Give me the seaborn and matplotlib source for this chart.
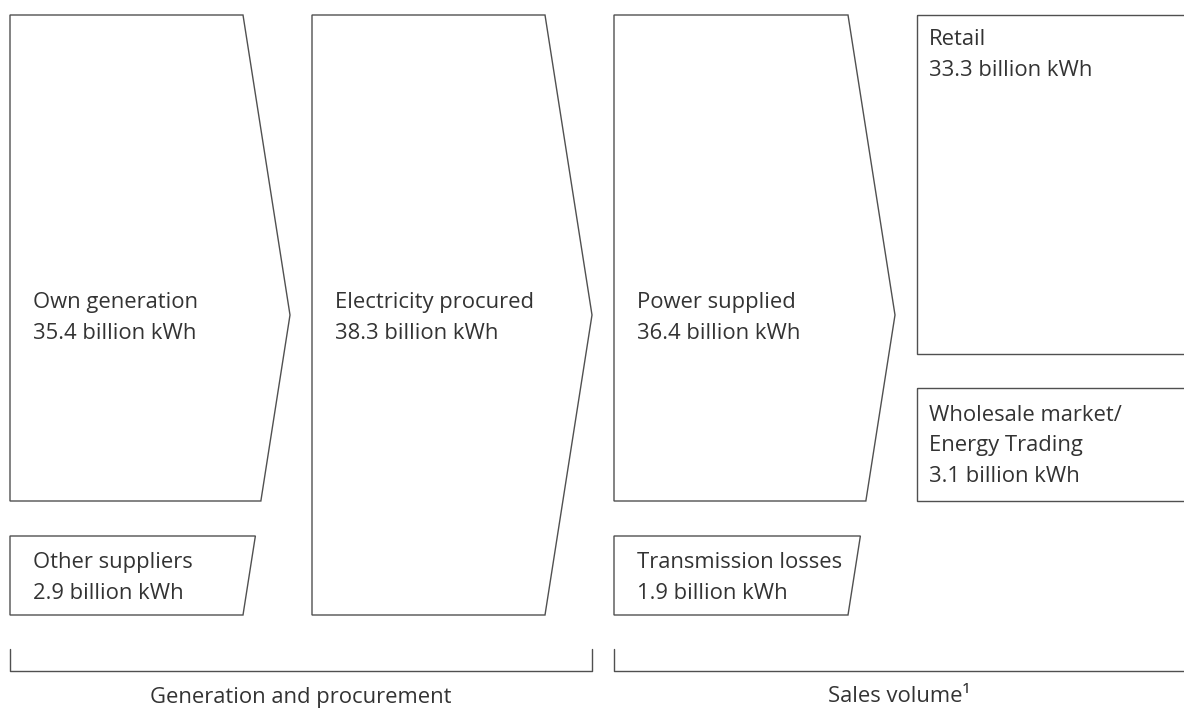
import seaborn as sns
import matplotlib.pyplot as plt
from matplotlib.patches import Polygon

# values (billion kWh)
own_generation = 35.4
other_suppliers = 2.9
electricity_procured = 38.3
power_supplied = 36.4
transmission_losses = 1.9
retail = 33.3
wholesale = 3.1

box_titles = ["Own generation", "Other suppliers", "Electricity procured",
              "Power supplied", "Transmission losses", "Retail",
              "Wholesale market/\nEnergy Trading"]
box_values = [own_generation, other_suppliers, electricity_procured,
              power_supplied, transmission_losses, retail, wholesale]
group_labels = ["Generation and procurement", "Sales volume\u00b9"]

sns.set_theme(style="white")
plt.rcParams['font.family'] = ['Open Sans', 'DejaVu Sans']

W, H = 1184, 711
fig = plt.figure(figsize=(W / 100, H / 100), dpi=100)
ax = fig.add_axes([0, 0, 1, 1])
ax.set_xlim(0, W)
ax.set_ylim(H, 0)
ax.axis("off")

edge = "#505050"
txt = "#333333"
slope = 47 / 300  # slant of the chevron edges


def chevron_x(tip_x, y, tip_y=315):
    return tip_x - slope * abs(y - tip_y)


def shape(pts):
    ax.add_patch(Polygon(pts, closed=True, fill=False, edgecolor=edge, linewidth=1.0))


# own generation (arrow) + other suppliers
t1 = 290
shape([(10, 15), (chevron_x(t1, 15), 15), (t1, 315), (chevron_x(t1, 501), 501), (10, 501)])
shape([(10, 536), (chevron_x(t1, 536), 536), (chevron_x(t1, 615), 615), (10, 615)])

# electricity procured
t2 = 592
shape([(312, 15), (chevron_x(t2, 15), 15), (t2, 315), (chevron_x(t2, 615), 615), (312, 615)])

# power supplied + transmission losses
t3 = 895
shape([(614, 15), (chevron_x(t3, 15), 15), (t3, 315), (chevron_x(t3, 501), 501), (614, 501)])
shape([(614, 536), (chevron_x(t3, 536), 536), (chevron_x(t3, 615), 615), (614, 615)])

# retail, wholesale (run off the right edge)
shape([(917, 15), (1190, 15), (1190, 354), (917, 354)])
shape([(917, 388), (1190, 388), (1190, 501), (917, 501)])

# labels
text_pos = [(33, 318), (33, 578), (335, 318), (637, 318), (637, 578), (929, 55), (929, 446)]
fs = 15.8
for (x, y), title, val in zip(text_pos, box_titles, box_values):
    ax.text(x, y, f"{title}\n{val} billion kWh", ha="left", va="center",
            fontsize=fs, color=txt, linespacing=1.6)

# brackets
ax.plot([10, 10, 592, 592], [649, 671, 671, 649], color=edge, linewidth=1.0)
ax.plot([614, 614, 1190], [649, 671, 671], color=edge, linewidth=1.0)
ax.text(301, 697, group_labels[0], ha="center", va="center", fontsize=fs, color=txt)
ax.text(899, 697, group_labels[1], ha="center", va="center", fontsize=fs, color=txt)

fig.savefig("out.png", dpi=100)
